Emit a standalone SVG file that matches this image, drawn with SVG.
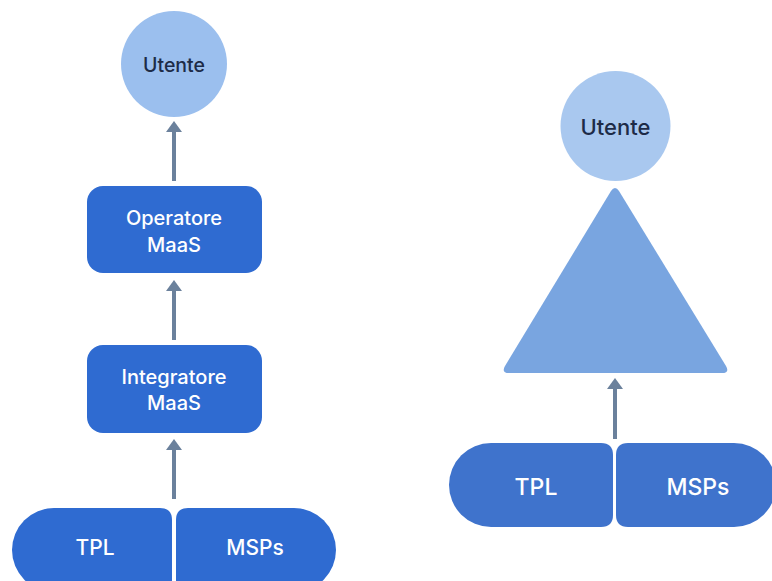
<svg xmlns="http://www.w3.org/2000/svg" width="772" height="581" viewBox="0 0 772 581">
<style>
text{font-family:Inter,"Noto Sans","Liberation Sans",sans-serif;text-anchor:middle;dominant-baseline:central;font-weight:500}
.box{fill:#2f6bd1}
.wt{fill:#ffffff}
.dk{fill:#1d2b47}
.conn line{stroke:#6b819c;stroke-width:4}
.conn path{fill:#6b819c}
</style>
<rect width="772" height="581" fill="#ffffff"/>
<g class="conn">
<line x1="174" y1="181" x2="174" y2="128"/>
<path d="M166,132 L174,121 L182,132 Z"/>
<line x1="174" y1="340" x2="174" y2="287"/>
<path d="M166,291 L174,280 L182,291 Z"/>
<line x1="174" y1="499" x2="174" y2="446"/>
<path d="M166,450 L174,439 L182,450 Z"/>
<line x1="615" y1="439" x2="615" y2="385"/>
<path d="M607,389 L615,378 L623,389 Z"/>
</g>
<g id="utente-left">
<circle cx="174" cy="64" r="53" fill="#9bbfee"/>
<text x="174" y="65" class="dk" font-size="19.5">Utente</text>
</g>
<g id="operatore">
<rect x="87" y="186" width="175" height="87" rx="16" class="box"/>
<text x="174" y="218" class="wt" font-size="20">Operatore</text>
<text x="174" y="245" class="wt" font-size="20">MaaS</text>
</g>
<g id="integratore">
<rect x="87" y="345" width="175" height="88" rx="16" class="box"/>
<text x="174" y="377" class="wt" font-size="20">Integratore</text>
<text x="174" y="403" class="wt" font-size="20">MaaS</text>
</g>
<g id="tpl-left">
<path d="M54,508 H160 Q172,508 172,520 V580 Q172,592 160,592 H54 A42,42 0 0 1 12,550 A42,42 0 0 1 54,508 Z" class="box"/>
<text x="95" y="547" class="wt" font-size="21">TPL</text>
</g>
<g id="msps-left">
<path d="M188,508 H294 A42,42 0 0 1 336,550 A42,42 0 0 1 294,592 H188 Q176,592 176,580 V520 Q176,508 188,508 Z" class="box"/>
<text x="255" y="547" class="wt" font-size="21">MSPs</text>
</g>
<g id="utente-right">
<circle cx="615.5" cy="126" r="55" fill="#a9c8ef"/>
<text x="615.5" y="127" class="dk" font-size="22">Utente</text>
</g>
<g id="triangle">
<path d="M611,191 Q615,185 619,191 L726,366 Q730,373 722,373 H509 Q501,373 505,366 Z" fill="#79a5e0"/>
</g>
<g id="tpl-right">
<path d="M491,443 H601 Q613,443 613,455 V515 Q613,527 601,527 H491 A42,42 0 0 1 449,485 A42,42 0 0 1 491,443 Z" fill="#3f73cc"/>
<text x="536" y="487" class="wt" font-size="23">TPL</text>
</g>
<g id="msps-right">
<path d="M628,443 H734 A42,42 0 0 1 776,485 A42,42 0 0 1 734,527 H628 Q616,527 616,515 V455 Q616,443 628,443 Z" fill="#3f73cc"/>
<text x="698" y="487" class="wt" font-size="23">MSPs</text>
</g>
</svg>
